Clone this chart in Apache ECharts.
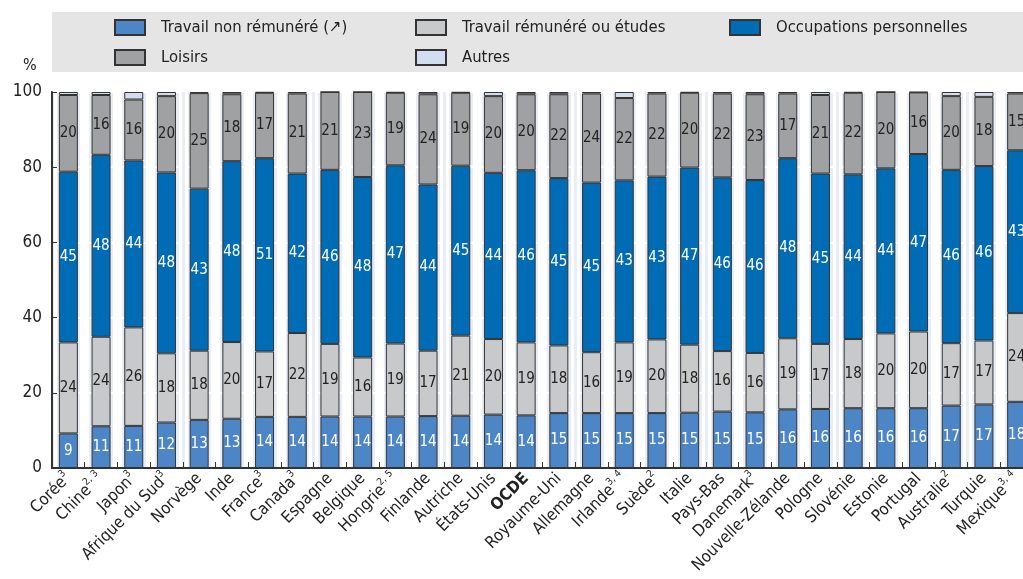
<!DOCTYPE html>
<html><head><meta charset="utf-8">
<script src="https://cdn.jsdelivr.net/npm/echarts@6/dist/echarts.min.js"></script>
<style>html,body{margin:0;padding:0;background:#fff}#c{width:1023px;height:579px}</style>
</head><body><div id="c"></div>
<script>
const categories = ['Corée','Chine','Japon','Afrique du Sud','Norvège','Inde','France','Canada','Espagne','Belgique','Hongrie','Finlande','Autriche','États-Unis','OCDE','Royaume-Uni','Allemagne','Irlande','Suède','Italie','Pays-Bas','Danemark','Nouvelle-Zélande','Pologne','Slovénie','Estonie','Portugal','Australie','Turquie','Mexique'];
const superscripts = ['3','2, 3','3','3','','','3','3','','','2, 5','','','','','','','3, 4','2','','','3','','','','','','2','','3, 4'];
const seriesNames = ['Travail non rémunéré (\u2197)','Travail rémunéré ou études','Occupations personnelles','Loisirs','Autres'];
const unpaid   = [9.2,11.1,11.2,12.1,12.8,13.1,13.6,13.6,13.7,13.7,13.7,13.8,13.9,14.2,14.0,14.6,14.6,14.6,14.6,14.7,15.0,14.8,15.6,15.7,15.9,15.9,15.9,16.6,16.9,17.6];
const paid     = [24.2,23.8,26.2,18.4,18.4,20.4,17.4,22.3,19.3,15.7,19.4,17.4,21.3,20.1,19.4,18.0,16.2,18.8,19.6,18.1,16.1,15.8,18.9,17.3,18.4,19.9,20.4,16.6,17.0,23.6];
const personal = [45.4,48.4,44.4,48.1,43.1,48.1,51.4,42.4,46.3,48.0,47.4,44.2,45.2,44.2,45.8,44.5,45.1,43.1,43.3,47.1,46.2,46.0,47.9,45.3,43.8,43.9,47.2,46.1,46.4,43.3];
const leisure  = [20.4,15.9,16.2,20.3,25.4,17.8,17.4,21.3,20.7,22.6,19.3,24.0,19.4,20.4,20.2,22.3,23.7,21.9,22.1,19.9,22.3,22.8,17.2,20.9,21.7,20.3,16.4,19.6,18.4,15.1];
const others   = [0.8,0.8,2.0,1.1,0.3,0.6,0.2,0.4,0.0,0.0,0.2,0.6,0.2,1.1,0.6,0.6,0.4,1.6,0.4,0.2,0.4,0.6,0.4,0.8,0.2,0.0,0.1,1.1,1.3,0.4];
const yTicks = [0,20,40,60,80,100];

const FF = '"Liberation Sans Narrow","DejaVu Sans Condensed",Roboto,sans-serif';
const colors = ['#4c86c6','#c8c9cb','#006cb5','#a0a1a3','#d2def0'];
const labelColors = ['#ffffff','#222222','#ffffff','#222222',null];
const values = [unpaid, paid, personal, leisure, others];

const chart = echarts.init(document.getElementById('c'));
const legendPos = [[114,19],[415,19],[729,19],[114,49],[415,49]];

const series = values.map((arr, i) => ({
  name: seriesNames[i],
  type: 'bar',
  stack: 'total',
  barWidth: 19,
  data: arr,
  itemStyle: {color: colors[i], borderColor: '#333', borderWidth: 1},
  label: labelColors[i] ? {
    show: true, position: 'inside', color: labelColors[i],
    fontFamily: FF, fontSize: 15,
    formatter: p => Math.round(p.value)
  } : {show: false},
  emphasis: {disabled: true}
}));

chart.setOption({
  animation: false,
  textStyle: {fontFamily: FF},
  graphic: [
    {type: 'rect', shape: {x: 52, y: 12, width: 971, height: 60}, style: {fill: '#e5e5e5'}, z: -10},
    {type: 'text', left: 23, top: 58, style: {text: '%', fontSize: 16, fontFamily: FF, fill: '#222'}}
  ],
  legend: seriesNames.map((n, i) => ({
    data: [n], left: legendPos[i][0], top: legendPos[i][1],
    itemWidth: 30, itemHeight: 15, icon: 'rect', padding: 0,
    textStyle: {fontSize: 16.5, fontFamily: FF, color: '#222', padding: [0,0,0,11]},
    selectedMode: false
  })),
  grid: {left: 52, top: 92, right: -10, bottom: 111, outerBoundsMode: 'none', show: true, backgroundColor: '#e9edf6', borderColor: '#333', borderWidth: 1.5},
  xAxis: [{
    type: 'category', data: categories,
    axisLine: {lineStyle: {color: '#333', width: 2}},
    axisTick: {show: true, inside: true, length: 6, lineStyle: {color: '#333', width: 1}},
    splitLine: {show: true, lineStyle: {color: '#ffffff', width: 9}},
    axisLabel: {
      interval: 0, rotate: 45, margin: 8, fontSize: 16.5, color: '#222', fontFamily: FF,
      formatter: (v, i) => {
        const idx = categories.indexOf(v);
        const s = superscripts[idx];
        if (v === 'OCDE') return '{b|OCDE}';
        return v + (s ? '{s|' + s + '}' : '');
      },
      rich: {
        s: {fontSize: 10, verticalAlign: 'top', lineHeight: 22, fontFamily: FF, color: '#222'},
        b: {fontWeight: 'bold', fontSize: 16.5, fontFamily: FF, color: '#222'}
      }
    }
  }, {
    type: 'category', data: categories, position: 'bottom',
    axisLine: {show: false}, axisTick: {show: false}, axisLabel: {show: false},
    splitLine: {show: true, lineStyle: {color: '#e9edf6', width: 3}}
  }],
  yAxis: {
    type: 'value', min: 0, max: 100, interval: 20,
    axisLine: {show: true, lineStyle: {color: '#333', width: 2}},
    axisTick: {show: true, inside: true, length: 5, lineStyle: {color: '#333'}},
    splitLine: {show: true, lineStyle: {color: '#ffffff', width: 2}},
    axisLabel: {fontSize: 17, color: '#222', fontFamily: FF, margin: 10,
      formatter: v => yTicks.includes(v) ? String(v) : ''}
  },
  series: series
});
</script></body></html>
